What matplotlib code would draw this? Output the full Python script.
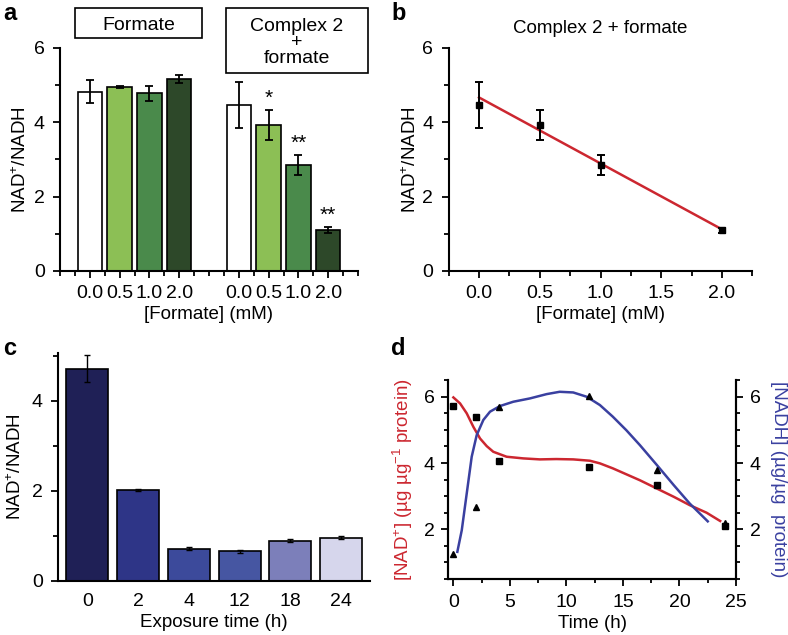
#!/usr/bin/env python3
"""
NAD+/NADH ratio figure (four panels a-d), rebuilt with matplotlib.
Output: out.png
"""

import numpy as np
import matplotlib
matplotlib.use("Agg")          # headless backend
import matplotlib.pyplot as plt
from matplotlib.patches import Rectangle
from matplotlib.ticker import MultipleLocator, FixedLocator

plt.rcParams["font.family"] = ["Liberation Sans", "DejaVu Sans"]
plt.rcParams["mathtext.fontset"] = "custom"
plt.rcParams["mathtext.rm"] = "Liberation Sans"
plt.rcParams["mathtext.it"] = "Liberation Sans:italic"
plt.rcParams["axes.linewidth"] = 1.5

# ---- panel a: formate alone vs complex 2 + formate ----
A_DOSE_LABELS = ["0.0", "0.5", "1.0", "2.0"]
A_FORMATE = [4.82, 4.95, 4.78, 5.17]
A_FORMATE_ERR = [0.31, 0.02, 0.21, 0.11]
A_COMPLEX = [4.47, 3.93, 2.85, 1.10]
A_COMPLEX_ERR = [0.62, 0.41, 0.27, 0.09]
A_STARS = ["", "*", "**", "**"]
A_COLOURS = ["#ffffff", "#8cbf55", "#4a8a4b", "#2d4829"]

# ---- panel b: complex 2 + formate, linear trend ----
B_DOSE = [0.0, 0.5, 1.0, 2.0]
B_RATIO = [4.47, 3.93, 2.85, 1.10]
B_ERR = [0.62, 0.41, 0.27, 0.07]
B_FIT_X = [0.0, 2.0]
B_FIT_Y = [4.67, 1.12]

# ---- panel c: exposure time ----
C_TIME_LABELS = ["0", "2", "4", "12", "18", "24"]
C_RATIO = [4.71, 2.02, 0.71, 0.65, 0.89, 0.96]
C_ERR = [0.30, 0.03, 0.03, 0.03, 0.03, 0.03]
C_COLOURS = ["#1f2056", "#2e3587", "#3c4a9b", "#4656a2", "#7c7fba", "#d6d6ec"]

# ---- panel d: NAD+ and NADH over time ----
D_TIME = [0, 2, 4, 12, 18, 24]
D_NAD = [5.73, 5.40, 4.06, 3.89, 3.34, 2.09]
D_NADH = [1.25, 2.68, 5.68, 6.02, 3.79, 2.18]
# smoothed curves as drawn in the figure
D_NAD_CURVE_T = [0.0, 0.59, 1.18, 1.77, 2.36, 2.95, 3.53, 4.71, 6.18, 7.65,
                 9.1, 10.6, 12.07, 12.96, 14.1, 15.3, 16.5, 18.0, 19.5,
                 20.9, 22.4, 23.6]
D_NAD_CURVE = [5.98, 5.80, 5.50, 5.09, 4.74, 4.51, 4.34, 4.19, 4.14, 4.11,
               4.12, 4.11, 4.07, 3.99, 3.84, 3.66, 3.48, 3.23, 2.98,
               2.73, 2.50, 2.25]
D_NADH_CURVE_T = [0.35, 0.74, 1.18, 1.62, 2.06, 2.65, 3.24, 4.12, 5.3, 6.77,
                  8.25, 9.4, 10.6, 11.8, 12.96, 14.1, 15.3, 16.5, 18.0,
                  19.5, 20.9, 22.5]
D_NADH_CURVE = [1.32, 1.97, 3.08, 4.19, 4.84, 5.30, 5.55, 5.72, 5.85, 5.95,
                6.08, 6.15, 6.13, 6.00, 5.75, 5.40, 4.99, 4.54, 3.94,
                3.33, 2.78, 2.24]

RED = "#cc2730"
BLUE = "#3a40a0"
W, H = 788, 635
TICK_FS = 14
LABEL_FS = 13.5


def fig_rect(left, top, right, bottom):
    """Pixel box (from top-left) -> figure fraction [l, b, w, h]."""
    return [left / W, 1 - bottom / H, (right - left) / W, (bottom - top) / H]


fig = plt.figure(figsize=(W / 100, H / 100), dpi=100)

# ================= panel a =================
ax_a = fig.add_axes(fig_rect(60, 48, 358, 271))
pos1 = np.arange(1, 5)
pos2 = np.arange(6, 10)
ebar = dict(ecolor="black", elinewidth=1.3, capsize=2.6, capthick=1.3)
ax_a.bar(pos1, A_FORMATE, 0.82, yerr=A_FORMATE_ERR, color=A_COLOURS,
         edgecolor="black", linewidth=1.2, error_kw=ebar)
ax_a.bar(pos2, A_COMPLEX, 0.82, yerr=A_COMPLEX_ERR, color=A_COLOURS,
         edgecolor="black", linewidth=1.2, error_kw=ebar)
for p, v, e, s in zip(pos2, A_COMPLEX, A_COMPLEX_ERR, A_STARS):
    if s:
        ax_a.text(p, v + e + 0.05, s, ha="center", va="bottom", fontsize=15)
ax_a.set_xlim(0, 10)
ax_a.set_ylim(0, 6)
ax_a.set_xticks(list(pos1) + list(pos2))
ax_a.set_xticklabels(A_DOSE_LABELS * 2)
ax_a.xaxis.set_minor_locator(MultipleLocator(0.5))
ax_a.set_yticks([0, 2, 4, 6])
ax_a.yaxis.set_minor_locator(FixedLocator([1, 3, 5]))
ax_a.tick_params(axis="both", which="major", labelsize=TICK_FS, width=1.3,
                 length=5, pad=6)
ax_a.tick_params(axis="x", which="major", pad=5)
ax_a.tick_params(axis="both", which="minor", width=1.3, length=3.5)
ax_a.set_ylabel(r"NAD$^{+}$/NADH", fontsize=LABEL_FS, labelpad=3)
ax_a.set_xlabel("[Formate] (mM)", fontsize=LABEL_FS, labelpad=3)
for side in ("top", "right"):
    ax_a.spines[side].set_visible(False)

# group label boxes above the bars
for (l, t, r, b), label in [((75, 8, 202, 38), "Formate"),
                            ((226, 8, 368, 73), "Complex 2\n+\nformate")]:
    fig.add_artist(Rectangle((l / W, 1 - b / H), (r - l) / W, (b - t) / H,
                             transform=fig.transFigure, facecolor="white",
                             edgecolor="black", linewidth=1.2))
    fig.text((l + r) / 2 / W, 1 - ((t + b) / 2 + 2) / H, label, ha="center",
             va="center", fontsize=TICK_FS, linespacing=0.92)

# ================= panel b =================
ax_b = fig.add_axes(fig_rect(448.6, 48, 752.4, 271))
ax_b.plot(B_FIT_X, B_FIT_Y, color=RED, linewidth=1.8, zorder=2)
ax_b.errorbar(B_DOSE, B_RATIO, yerr=B_ERR, fmt="s", color="black",
              markersize=5, elinewidth=1.4, capsize=3, capthick=1.4, zorder=3)
ax_b.set_xlim(-0.25, 2.25)
ax_b.set_ylim(0, 6)
ax_b.set_xticks([0.0, 0.5, 1.0, 1.5, 2.0])
ax_b.set_xticklabels(["0.0", "0.5", "1.0", "1.5", "2.0"])
ax_b.xaxis.set_minor_locator(FixedLocator([-0.25, 0.25, 0.75, 1.25, 1.75, 2.25]))
ax_b.set_yticks([0, 2, 4, 6])
ax_b.yaxis.set_minor_locator(FixedLocator([1, 3, 5]))
ax_b.tick_params(axis="both", which="major", labelsize=TICK_FS, width=1.3,
                 length=5, pad=6)
ax_b.tick_params(axis="x", which="major", pad=5)
ax_b.tick_params(axis="both", which="minor", width=1.3, length=3.5)
ax_b.set_ylabel(r"NAD$^{+}$/NADH", fontsize=LABEL_FS, labelpad=2)
ax_b.set_xlabel("[Formate] (mM)", fontsize=LABEL_FS, labelpad=3)
ax_b.set_title("Complex 2 + formate", fontsize=LABEL_FS, pad=11)
for side in ("top", "right"):
    ax_b.spines[side].set_visible(False)

# ================= panel c =================
ax_c = fig.add_axes(fig_rect(58, 352.7, 370, 580.7))
xc = np.arange(len(C_RATIO))
ax_c.bar(xc, C_RATIO, 0.83, yerr=C_ERR, color=C_COLOURS, edgecolor="black",
         linewidth=1.2,
         error_kw=dict(ecolor="black", elinewidth=1.0, capsize=2.5,
                       capthick=1.0))
ax_c.set_xlim(-0.58, 5.57)
ax_c.set_ylim(0, 5.07)
ax_c.set_xticks(xc)
ax_c.set_xticklabels(C_TIME_LABELS)
ax_c.set_yticks([0, 2, 4])
ax_c.yaxis.set_minor_locator(FixedLocator([1, 3, 5]))
ax_c.tick_params(axis="x", which="both", length=0, labelsize=TICK_FS, pad=9)
ax_c.tick_params(axis="y", which="major", labelsize=TICK_FS, width=1.3,
                 length=5, pad=6)
ax_c.tick_params(axis="y", which="minor", width=1.3, length=3.5)
ax_c.set_ylabel(r"NAD$^{+}$/NADH", fontsize=LABEL_FS, labelpad=5)
ax_c.set_xlabel("Exposure time (h)", fontsize=LABEL_FS, labelpad=3)
for side in ("top", "right"):
    ax_c.spines[side].set_visible(False)

# ================= panel d =================
ax_d = fig.add_axes(fig_rect(448.3, 380.2, 736, 579))
ax_d2 = ax_d.twinx()
ax_d.plot(D_NAD_CURVE_T, D_NAD_CURVE, color=RED, linewidth=1.8)
ax_d.plot(D_TIME, D_NAD, "s", color="black", markersize=4)
ax_d2.plot(D_NADH_CURVE_T, D_NADH_CURVE, color=BLUE, linewidth=1.8)
ax_d2.plot(D_TIME, D_NADH, "^", color="black", markersize=4.5)
for a in (ax_d, ax_d2):
    a.set_xlim(-0.45, 25)
    a.set_ylim(0.5, 6.5)
    a.set_yticks([2, 4, 6])
    a.yaxis.set_minor_locator(MultipleLocator(0.5))
    a.tick_params(axis="y", which="major", labelsize=TICK_FS, width=1.3,
                  length=5, pad=5)
    a.tick_params(axis="y", which="minor", width=1.3, length=3)
    a.spines["top"].set_visible(False)
ax_d.set_xticks([0, 5, 10, 15, 20, 25])
ax_d.xaxis.set_minor_locator(MultipleLocator(2.5))
ax_d.tick_params(axis="x", which="major", labelsize=TICK_FS, width=1.3,
                 length=5, pad=6)
ax_d.tick_params(axis="x", which="minor", width=1.3, length=3)
ax_d.set_xlabel("Time (h)", fontsize=LABEL_FS, labelpad=3)
ax_d.set_ylabel(r"[NAD$^{+}$] (µg µg$^{-1}$ protein)", fontsize=LABEL_FS,
                color=RED, labelpad=6)
ax_d2.set_ylabel("[NADH] (µg/µg  protein)", fontsize=LABEL_FS, color=BLUE,
                 rotation=270, labelpad=19)

# panel letters
for x, y, s in [(3, 13, "a"), (391, 13, "b"), (3, 348, "c"), (391, 348, "d")]:
    fig.text(x / W, 1 - y / H, s, fontsize=17, fontweight="bold",
             ha="left", va="center")

fig.savefig("out.png", dpi=100)
